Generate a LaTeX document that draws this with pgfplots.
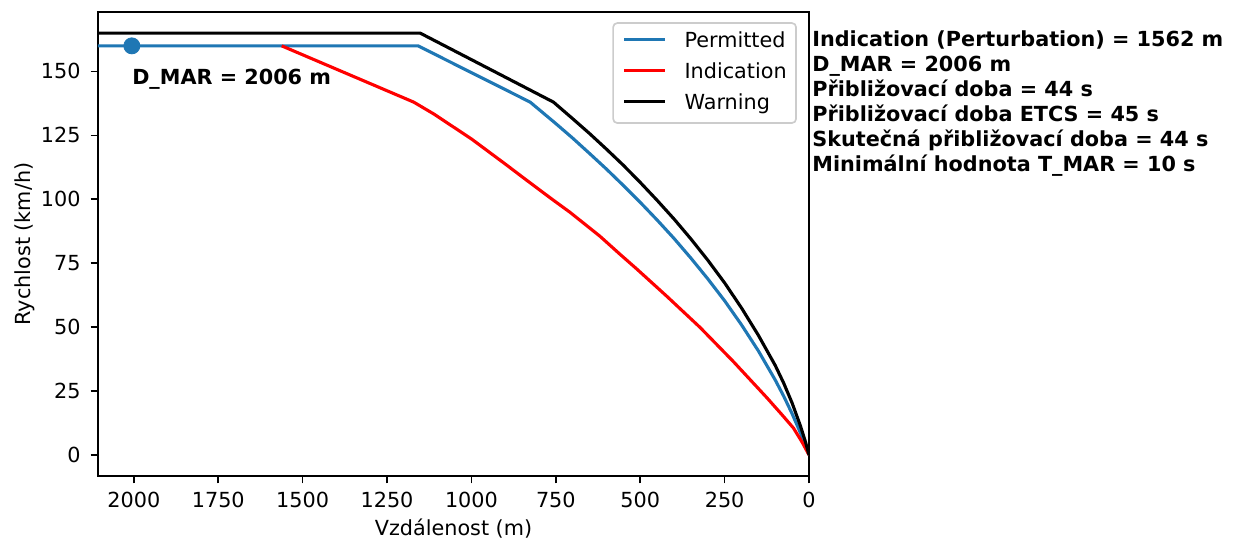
\documentclass[border=0pt]{standalone}
\usepackage{pgfplots}
\pgfplotsset{compat=1.18}
\usepackage{fontspec}
\setmainfont{DejaVu Sans}
\definecolor{mplblue}{HTML}{1F77B4}
\begin{document}
\begin{tikzpicture}
\useasboundingbox (-47.04bp,-30.24bp) rectangle (550.56bp,228.48bp);
\begin{axis}[
  at={(0,0)}, anchor=south west,
  scale only axis, width=341.28bp, height=222.72bp,
  x dir=reverse,
  xmin=0, xmax=2106.3, ymin=-8.25, ymax=173.25,
  xtick={0,250,500,750,1000,1250,1500,1750,2000},
  xticklabels={0,250,500,750,1000,1250,1500,1750,2000},
  ytick={0,25,50,75,100,125,150},
  yticklabels={0,25,50,75,100,125,150},
  tick label style={font=\fontsize{10}{12}\selectfont},
  label style={font=\fontsize{10}{12}\selectfont},
  tick align=outside,
  major tick length=3.5bp,
  every tick/.style={black, line width=0.8bp},
  axis line style={line width=0.8bp},
  xtick pos=bottom, ytick pos=left,
  xticklabel style={anchor=base, inner sep=0pt, yshift=-11.4bp},
  yticklabel style={anchor=east, inner sep=0pt, xshift=-4.7bp},
  xlabel={Vzdálenost (m)},
  ylabel={Rychlost (km/h)},
  xlabel style={at={(axis description cs:0.5,-0.1293)}, anchor=base, inner sep=0pt},
  ylabel style={at={(axis description cs:-0.095,0.5)}, anchor=base, inner sep=0pt},
  legend cell align=left,
  legend image code/.code={\path (0bp,0bp); \draw[#1] (0bp,3.6bp) -- (19.7bp,3.6bp);},
  legend style={at={(axis description cs:0.983,0.978)}, anchor=north east,
    draw=black!20, rounded corners=2bp, fill=white, line width=0.8bp,
    inner xsep=4.5bp, inner ysep=4.1bp, row sep=4.9bp, column sep=8.6bp,
    font=\fontsize{10}{12}\selectfont,
    nodes={inner sep=0pt, text height=7.5bp, text depth=2.5bp, anchor=base west}},
]
\addplot[mplblue, line width=1.5pt] coordinates {
 (2150,160) (1158,160) (826,138) (750,129.6) (700,123.9) (650,117.9)
 (600,111.8) (550,105.4) (500,98.8) (450,91.9) (400,84.7) (350,77.0)
 (300,68.9) (250,60.3) (200,50.9) (150,40.7) (100,29.3) (75,23.0)
 (50,16.1) (25,8.5) (10,3.6) (0,0)
};
\addlegendentry{Permitted}
\addplot[red, line width=1.5pt] coordinates {
 (1562,160) (1171,138) (1112,133.4) (1000,123.6) (900,113.8) (836,107.4)
 (760,99.9) (708,94.9) (619,85.5) (560,78.5) (510,72.7) (420,61.9)
 (323,49.9) (224,36.5) (125,22.4) (80,15.7) (46,10.5) (20,4.9) (0,0)
};
\addlegendentry{Indication}
\addplot[black, line width=1.5pt] coordinates {
 (2150,165) (1152,165) (757,138) (700,131.5) (650,125.7) (600,119.6)
 (550,113.3) (500,106.6) (450,99.6) (400,92.3) (350,84.5) (300,76.2)
 (250,67.3) (200,57.5) (150,46.8) (100,35.0) (75,28.1) (50,20.3)
 (25,11.2) (10,4.9) (0,0)
};
\addlegendentry{Warning}
\addplot[only marks, mark=*, mark size=3.85bp, mplblue, forget plot] coordinates {(2006,160)};
\node[anchor=base west, inner sep=0pt, font=\bfseries] at (axis cs:2006,145) {D\_MAR = 2006 m};
\end{axis}
\begin{scope}[every node/.style={anchor=base west, inner sep=0pt, font=\bfseries}]
\node at (342.7bp,206.1bp) {Indication (Perturbation) = 1562 m};
\node at (342.7bp,194.1bp) {D\_MAR = 2006 m};
\node at (342.7bp,182.1bp) {Přibližovací doba = 44 s};
\node at (342.7bp,170.1bp) {Přibližovací doba ETCS = 45 s};
\node at (342.7bp,158.1bp) {Skutečná přibližovací doba = 44 s};
\node at (342.7bp,146.1bp) {Minimální hodnota T\_MAR = 10 s};
\end{scope}
\end{tikzpicture}
\end{document}
